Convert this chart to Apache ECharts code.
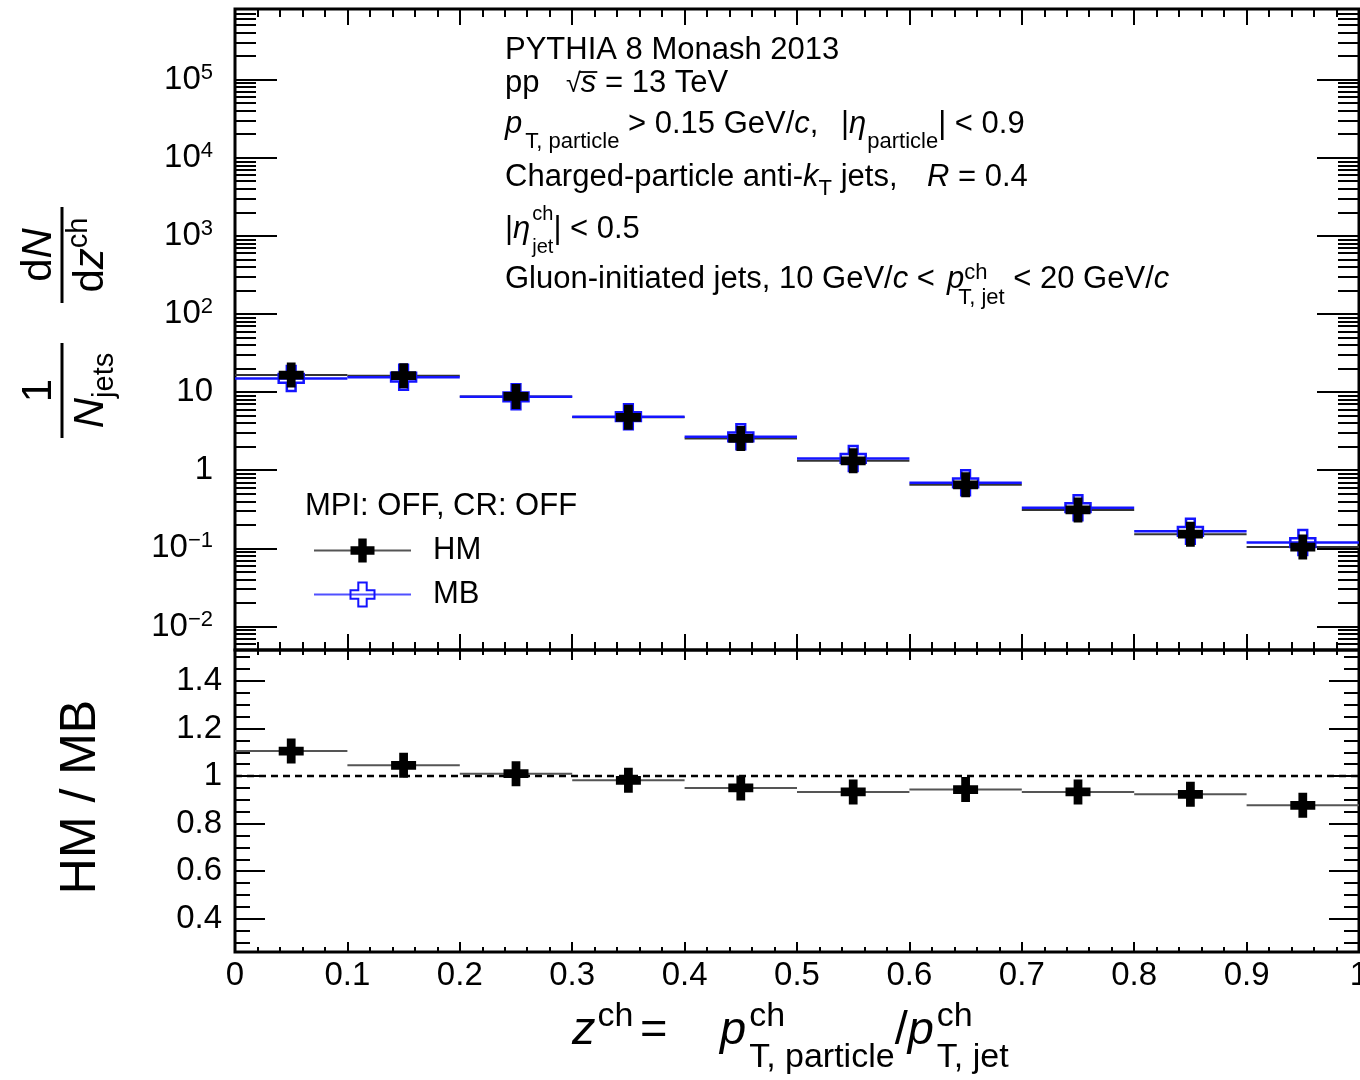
<!DOCTYPE html>
<html>
<head>
<meta charset="utf-8">
<script src="https://cdn.jsdelivr.net/npm/echarts@6/dist/echarts.min.js"></script>
<style>
  html, body { margin: 0; padding: 0; background: #fff; }
  #chart { width: 1360px; height: 1080px; }
</style>
</head>
<body>
<div id="chart"></div>
<script>
// ---- data ----------------------------------------------------------------
// z^ch bins
const binEdges = [0, 0.1, 0.2, 0.3, 0.4, 0.5, 0.6, 0.7, 0.8, 0.9, 1.0];
const binCenters = [0.05, 0.15, 0.25, 0.35, 0.45, 0.55, 0.65, 0.75, 0.85, 0.95];
// 1/N_jets dN/dz^ch, high-multiplicity events
const hmValues = [16.5, 16.2, 8.8, 4.75, 2.55, 1.32, 0.65, 0.31, 0.152, 0.104];
// 1/N_jets dN/dz^ch, minimum-bias events
const mbValues = [14.93, 15.5, 8.71, 4.84, 2.68, 1.415, 0.689, 0.332, 0.165, 0.1186];
// HM / MB
const ratioValues = [1.105, 1.045, 1.01, 0.982, 0.95, 0.933, 0.943, 0.933, 0.923, 0.877];
const ratioReference = 1;

// ---- tick values -----------------------------------------------------------
const logRange = [0.005, 8e5];
const logMajorTicks = [0.01, 0.1, 1, 10, 100, 1000, 10000, 100000];
const logMinorTicks = [];
for (let n = -3; n <= 5; n++) {
  for (let k = 2; k <= 9; k++) {
    const v = k * Math.pow(10, n);
    if (v >= logRange[0] && v <= logRange[1]) logMinorTicks.push(v);
  }
}
const ratioRange = [0.26, 1.53];
const ratioMajorTicks = [0.4, 0.6, 0.8, 1.0, 1.2, 1.4];
const ratioMinorTicks = [0.3, 0.35, 0.4, 0.45, 0.5, 0.55, 0.6, 0.65, 0.7, 0.75, 0.8, 0.85,
  0.9, 0.95, 1.0, 1.05, 1.1, 1.15, 1.2, 1.25, 1.3, 1.35, 1.4, 1.45, 1.5];

// ---- text helpers ------------------------------------------------------------
const FONT = '"Liberation Sans", Arial, Helvetica, sans-serif';
const LABEL_SIZE = 33;
const mctx = document.createElement('canvas').getContext('2d');
function fontOf(size, italic) { return (italic ? 'italic ' : '') + size + 'px ' + FONT; }
function widthOf(t, size, italic) { mctx.font = fontOf(size, italic); return mctx.measureText(t).width; }
function runWidth(segs) {
  let x = 0, held = 0;
  segs.forEach(s => {
    const w = widthOf(s.t, s.s || 31, s.i);
    if (s.gap) x += s.gap;
    if (s.hold) held = Math.max(held, w); else { x += Math.max(w, held); held = 0; }
  });
  return x;
}
// lays out a run of text pieces on a common baseline (sub/superscripts via dy)
function runText(x0, baseline, segs, anchor) {
  let x = anchor === 'center' ? x0 - runWidth(segs) / 2 : x0;
  let held = 0;
  const els = [];
  segs.forEach(seg => {
    const size = seg.s || 31;
    if (seg.at != null) x = seg.at;
    if (seg.gap) x += seg.gap;
    const w = widthOf(seg.t, size, seg.i);
    els.push({
      type: 'text', x: x, y: baseline + (seg.dy || 0) - 0.3465 * size, silent: true,
      style: {
        text: seg.t, fontSize: size, fontFamily: FONT,
        fontStyle: seg.i ? 'italic' : 'normal', fill: '#000',
        align: 'left', verticalAlign: 'middle'
      }
    });
    if (seg.hold) held = Math.max(held, w); else { x += Math.max(w, held); held = 0; }
  });
  return els;
}

// ---- marks -------------------------------------------------------------------
const CROSS = 'path://M6.5,0H13.5V6.5H20V13.5H13.5V20H6.5V13.5H0V6.5H6.5Z';
const BLUE = '#1414ff';

function binSegments(color, width) {
  return function (params, api) {
    const a = api.coord([api.value(0), api.value(2)]);
    const b = api.coord([api.value(1), api.value(2)]);
    return {
      type: 'line',
      shape: { x1: a[0], y1: a[1], x2: b[0], y2: b[1] },
      style: { stroke: color, lineWidth: width }
    };
  };
}
const binRows = vals => vals.map((v, i) => [binEdges[i], binEdges[i + 1], v]);
const pointRows = vals => vals.map((v, i) => [binCenters[i], v]);

// ---- axes --------------------------------------------------------------------
function xAxisDef(gridIndex, position, majorLen, minorLen, withLabels) {
  return {
    type: 'value', gridIndex, position, min: 0, max: 1, interval: 0.1,
    axisLine: { show: false },
    splitLine: { show: false }, minorSplitLine: { show: false },
    axisTick: { show: true, inside: true, length: majorLen, lineStyle: { color: '#000', width: 2 } },
    minorTick: { show: true, splitNumber: 5, length: minorLen, lineStyle: { color: '#000', width: 2 } },
    axisLabel: withLabels ? {
      show: true, margin: 7, fontSize: LABEL_SIZE, lineHeight: LABEL_SIZE, fontFamily: FONT, color: '#000',
      formatter: v => (Math.abs(v) < 1e-9 ? '0' : Math.abs(v - 1) < 1e-9 ? '1' : v.toFixed(1))
    } : { show: false }
  };
}
function logAxisDef(position, ticks, len, withLabels) {
  return {
    type: 'log', logBase: 10, gridIndex: 0, position, min: logRange[0], max: logRange[1],
    axisLine: { show: false }, splitLine: { show: false },
    axisTick: { show: true, inside: true, length: len, customValues: ticks, lineStyle: { color: '#000', width: 2 } },
    axisLabel: withLabels ? {
      show: true, customValues: logMajorTicks, margin: 22,
      fontSize: LABEL_SIZE, lineHeight: 36, fontFamily: FONT, color: '#000',
      formatter: v => {
        const n = Math.round(Math.log10(v));
        if (n === 0) return '1';
        if (n === 1) return '10';
        return '10{sup|' + (n < 0 ? '\u2212' + (-n) : n) + '}';
      },
      rich: { sup: { fontSize: 22, lineHeight: 19, verticalAlign: 'top', fontFamily: FONT, color: '#000' } }
    } : { show: false }
  };
}
function ratioAxisDef(position, ticks, len, withLabels) {
  return {
    type: 'value', gridIndex: 1, position, min: ratioRange[0], max: ratioRange[1],
    axisLine: { show: false }, splitLine: { show: false },
    axisTick: { show: true, inside: true, length: len, customValues: ticks, lineStyle: { color: '#000', width: 2 } },
    axisLabel: withLabels ? {
      show: true, customValues: ratioMajorTicks, margin: 13,
      fontSize: LABEL_SIZE, fontFamily: FONT, color: '#000',
      formatter: v => (Math.abs(v - 1) < 1e-9 ? '1' : v.toFixed(1))
    } : { show: false }
  };
}

// ---- annotations -------------------------------------------------------------
const TX = 505;
const infoText = [].concat(
  runText(TX, 61, [{ t: 'PYTHIA 8 Monash 2013' }]),
  runText(TX, 94, [{ t: 'pp' }, { t: '\u221A', s: 27, at: 566 }, { t: 's', i: true }, { t: ' = 13 TeV' }]),
  runText(TX, 135, [
    { t: 'p', i: true }, { t: 'T, particle', s: 22, dy: 15, gap: 3 },
    { t: ' > 0.15 GeV/' }, { t: 'c', i: true }, { t: ',' },
    { t: '|', at: 841 }, { t: '\u03B7', i: true }, { t: 'particle', s: 22, dy: 15, gap: 1 },
    { t: '|' }, { t: ' < 0.9' }
  ]),
  runText(TX, 188, [
    { t: 'Charged-particle anti-' }, { t: 'k', i: true }, { t: 'T', s: 22, dy: 9 },
    { t: ' jets,' }, { t: 'R', i: true, at: 927 }, { t: ' = 0.4' }
  ]),
  runText(TX, 240, [
    { t: '|' }, { t: '\u03B7', i: true },
    { t: 'ch', s: 20, dy: -19, hold: true, gap: 2 }, { t: 'jet', s: 20, dy: 14 },
    { t: '|' }, { t: ' < 0.5' }
  ]),
  runText(TX, 290, [
    { t: 'Gluon-initiated jets, 10 GeV/' }, { t: 'c', i: true }, { t: ' <' },
    { t: 'p', i: true, at: 947 }, { t: 'ch', s: 22, dy: -9, hold: true },
    { t: 'T, jet', s: 22, dy: 16, gap: -6 }, { t: ' < 20 GeV/' }, { t: 'c', i: true }
  ])
);
// radical bar over s
const sqrtLeft = 566 + widthOf('\u221A', 27) - 2;
const sqrtRight = 566 + widthOf('\u221A', 27) + widthOf('s', 31, true) + 1;
infoText.push({ type: 'line', silent: true, shape: { x1: sqrtLeft, y1: 72, x2: sqrtRight, y2: 72 }, style: { stroke: '#000', lineWidth: 1.8 } });

const legendHeader = runText(305, 517, [{ t: 'MPI: OFF, CR: OFF' }]);

const xTitle = runText(0, 1047, [
  { t: 'z', s: 47, i: true, at: 572 }, { t: 'ch', s: 34, dy: -19, gap: 2 },
  { t: '=', s: 47, at: 640 },
  { t: 'p', s: 47, i: true, at: 720 }, { t: 'ch', s: 34, dy: -19, hold: true, gap: 3 },
  { t: 'T, particle', s: 34, dy: 22 },
  { t: '/', s: 47 }, { t: 'p', s: 47, i: true }, { t: 'ch', s: 34, dy: -19, hold: true, gap: 3 },
  { t: 'T, jet', s: 34, dy: 22 }
]);

// 1/N_jets dN/dz^ch, read bottom to top
const yTitleTop = {
  type: 'group', x: 62, y: 440, rotation: Math.PI / 2, silent: true,
  children: [].concat(
    [{ type: 'line', shape: { x1: 2, y1: 0, x2: 97, y2: 0 }, style: { stroke: '#000', lineWidth: 3 } }],
    runText(49.5, -8, [{ t: '1', s: 42 }], 'center'),
    runText(49.5, 44, [{ t: 'N', s: 42, i: true }, { t: 'jets', s: 29, dy: 9 }], 'center'),
    [{ type: 'line', shape: { x1: 137, y1: 0, x2: 233, y2: 0 }, style: { stroke: '#000', lineWidth: 3 } }],
    runText(185, -8, [{ t: 'd', s: 42 }, { t: 'N', s: 42, i: true }], 'center'),
    runText(185, 44, [{ t: 'd', s: 42 }, { t: 'z', s: 42, i: true }, { t: 'ch', s: 29, dy: -17 }], 'center')
  )
};
const yTitleBottom = {
  type: 'group', x: 81, y: 797, rotation: Math.PI / 2, silent: true,
  children: [{
    type: 'text', x: 0, y: 0,
    style: { text: 'HM / MB', fontSize: 50, fontFamily: FONT, fill: '#000', align: 'center', verticalAlign: 'middle' }
  }]
};

// ---- chart -------------------------------------------------------------------
const chart = echarts.init(document.getElementById('chart'), null, { renderer: 'canvas' });
chart.setOption({
  animation: false,
  backgroundColor: '#fff',
  grid: [
    { left: 235, top: 9, width: 1124, height: 641, show: true, borderColor: '#000', borderWidth: 3,
      backgroundColor: 'transparent', containLabel: false, outerBoundsMode: 'none' },
    { left: 235, top: 650, width: 1124, height: 302, show: true, borderColor: '#000', borderWidth: 3,
      backgroundColor: 'transparent', containLabel: false, outerBoundsMode: 'none' }
  ],
  xAxis: [
    xAxisDef(0, 'bottom', 16, 8, false),
    xAxisDef(0, 'top', 16, 8, false),
    xAxisDef(1, 'bottom', 10, 5, true),
    xAxisDef(1, 'top', 10, 5, false)
  ],
  yAxis: [
    logAxisDef('left', logMajorTicks, 42, true),
    logAxisDef('left', logMinorTicks, 21, false),
    logAxisDef('right', logMajorTicks, 42, false),
    logAxisDef('right', logMinorTicks, 21, false),
    ratioAxisDef('left', ratioMajorTicks, 30, true),
    ratioAxisDef('left', ratioMinorTicks, 15, false),
    ratioAxisDef('right', ratioMajorTicks, 30, false),
    ratioAxisDef('right', ratioMinorTicks, 15, false)
  ],
  legend: {
    left: 313, top: 535, orient: 'vertical', padding: 0, itemGap: 13,
    itemWidth: 97, itemHeight: 30, selectedMode: false,
    data: [
      { name: 'HM', lineStyle: { color: '#555', width: 2, opacity: 1 } },
      { name: 'MB', lineStyle: { color: '#5050ff', width: 2, opacity: 1 } }
    ],
    textStyle: { fontSize: 31, fontFamily: FONT, color: '#000', padding: [0, 0, 0, 17] }
  },
  graphic: { elements: [].concat(infoText, legendHeader, xTitle, [yTitleTop, yTitleBottom]) },
  series: [
    { name: 'HM bins', type: 'custom', xAxisIndex: 0, yAxisIndex: 0,
      encode: { x: [0, 1], y: 2 }, data: binRows(hmValues), renderItem: binSegments('#333', 2), silent: true },
    { name: 'MB bins', type: 'custom', xAxisIndex: 0, yAxisIndex: 0,
      encode: { x: [0, 1], y: 2 }, data: binRows(mbValues), renderItem: binSegments(BLUE, 2.5), silent: true },
    { name: 'MB', type: 'line', xAxisIndex: 0, yAxisIndex: 0, data: pointRows(mbValues),
      symbol: CROSS, symbolSize: 25, showAllSymbol: true,
      lineStyle: { width: 0, opacity: 0 },
      itemStyle: { color: 'rgba(255,255,255,0)', borderColor: BLUE, borderWidth: 2.5 },
      emphasis: { disabled: true }, silent: true },
    { name: 'HM', type: 'line', xAxisIndex: 0, yAxisIndex: 0, data: pointRows(hmValues),
      symbol: CROSS, symbolSize: 25, showAllSymbol: true,
      lineStyle: { width: 0, opacity: 0 },
      itemStyle: { color: '#000', borderWidth: 0 },
      emphasis: { disabled: true }, silent: true },
    { name: 'unity', type: 'line', xAxisIndex: 2, yAxisIndex: 4,
      data: [[0, ratioReference], [1, ratioReference]], symbol: 'none',
      lineStyle: { color: '#000', width: 2.5, type: [7, 5] }, emphasis: { disabled: true }, silent: true },
    { name: 'HM/MB bins', type: 'custom', xAxisIndex: 2, yAxisIndex: 4,
      encode: { x: [0, 1], y: 2 }, data: binRows(ratioValues), renderItem: binSegments('#555', 2), silent: true },
    { name: 'HM/MB', type: 'scatter', xAxisIndex: 2, yAxisIndex: 4, data: pointRows(ratioValues),
      symbol: CROSS, symbolSize: 25, itemStyle: { color: '#000', opacity: 1 },
      emphasis: { disabled: true }, silent: true }
  ]
});
</script>
</body>
</html>
